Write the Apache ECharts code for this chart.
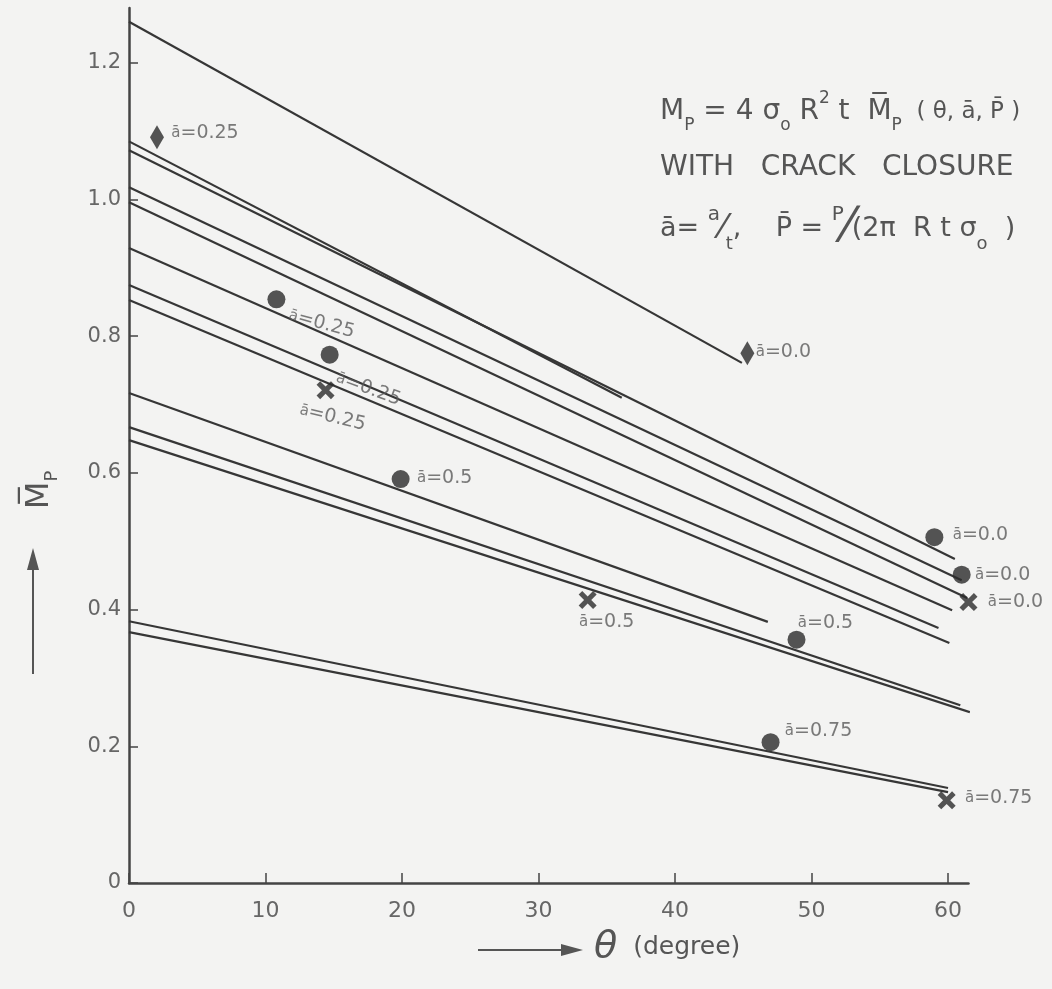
<!DOCTYPE html>
<html><head><meta charset="utf-8">
<script src="https://cdn.jsdelivr.net/npm/echarts@6/dist/echarts.min.js"></script>
<style>html,body{margin:0;padding:0;background:#f3f3f2}#c{width:1052px;height:989px}</style>
</head><body><div id="c"></div>
<script>
// ---- data ----
const xTicks = [0, 10, 20, 30, 40, 50, 60];
const yTicks = [0, 0.2, 0.4, 0.6, 0.8, 1.0, 1.2];
// straight curves: all start at theta = 0
const curveStartM   = [1.260, 1.085, 1.072, 1.018, 0.996, 0.929, 0.875, 0.853, 0.717, 0.667, 0.648, 0.383, 0.367];
const curveEndTheta = [44.9, 36.1, 60.5, 61.0, 61.4, 60.3, 59.3, 60.1, 46.8, 60.9, 61.6, 60.0, 60.0];
const curveEndM     = [0.761, 0.710, 0.474, 0.443, 0.417, 0.399, 0.373, 0.351, 0.382, 0.260, 0.250, 0.139, 0.133];
// experimental points
const markerTheta = [2.05, 45.3, 10.8, 14.7, 14.4, 19.9, 33.6, 48.9, 59.0, 61.0, 61.5, 47.0, 59.9];
const markerM     = [1.091, 0.775, 0.854, 0.773, 0.721, 0.591, 0.414, 0.356, 0.506, 0.451, 0.411, 0.206, 0.121];
const markerAbar  = ['0.25', '0.0', '0.25', '0.25', '0.25', '0.5', '0.5', '0.5', '0.0', '0.0', '0.0', '0.75', '0.75'];
const markerKind  = ['diamond', 'diamond', 'dot', 'dot', 'cross', 'dot', 'cross', 'dot', 'dot', 'dot', 'cross', 'dot', 'cross'];

// ---- styling (label placement relative to each point) ----
const markerLabelOffset = [[48,-4],[36,-1],[50,12],[48,19],[13,25],[44,-1],[19,22],[29,-17],[46,-2],[41,0],[47,0],[48,-11],[52,-2]];
const markerLabelRotate = [0, 0, -15, -20, -13, 0, 0, 0, 0, 0, 0, 0, 0];

const FONT = 'DejaVu Sans';
const INK = '#363636';
const TXT = '#5a5a5a';
const crossPath = 'path://M2,0 L5,3 L8,0 L10,2 L7,5 L10,8 L8,10 L5,7 L2,10 L0,8 L3,5 L0,2 Z';

function symbolFor(k) { return k === 'diamond' ? 'diamond' : (k === 'cross' ? crossPath : 'circle'); }
function sizeFor(k) { return k === 'diamond' ? [14, 24] : (k === 'cross' ? 18 : 18); }

const series = [];
curveStartM.forEach(function (m0, i) {
  series.push({
    type: 'line', data: [[0, m0], [curveEndTheta[i], curveEndM[i]]],
    symbol: 'none', silent: true, clip: false, z: 2,
    lineStyle: { color: INK, width: 2.2 }
  });
});
series.push({
  type: 'scatter', clip: false, z: 5, silent: true,
  itemStyle: { color: '#2a2a2a' },
  data: markerTheta.map(function (t, i) {
    return {
      value: [t, markerM[i]],
      symbol: symbolFor(markerKind[i]),
      symbolSize: sizeFor(markerKind[i]),
      label: {
        show: true, position: 'inside',
        offset: markerLabelOffset[i], rotate: markerLabelRotate[i],
        formatter: '{a|ā}{t|=' + markerAbar[i] + '}',
        rich: {
          a: { fontSize: 15, color: TXT, fontFamily: FONT },
          t: { fontSize: 19, color: TXT, fontFamily: FONT }
        }
      }
    };
  })
});

const option = {
  backgroundColor: '#f3f3f2',
  animation: false,
  grid: { left: 129, right: 83.5, top: 8.1, bottom: 106 },
  xAxis: {
    type: 'value', min: 0, max: 61.5,
    axisLine: { lineStyle: { color: '#444', width: 2.5 } },
    axisTick: { inside: true, length: 10, customValues: xTicks, lineStyle: { color: '#444', width: 1.5 } },
    axisLabel: { customValues: xTicks, fontSize: 22, color: '#666', margin: 17, fontFamily: FONT },
    splitLine: { show: false }
  },
  yAxis: {
    type: 'value', min: 0, max: 1.28,
    axisLine: { show: true, lineStyle: { color: '#444', width: 2.5 } },
    axisTick: { show: true, inside: true, length: 9, customValues: yTicks, lineStyle: { color: '#444', width: 1.5 } },
    axisLabel: {
      customValues: yTicks, fontSize: 21, color: '#666', margin: 8, fontFamily: FONT,
      formatter: function (v) { return v === 0 ? '0' : v.toFixed(1); }
    },
    splitLine: { show: false }
  },
  graphic: [
    // y-axis name (rotated) and arrow
    {
      type: 'text', x: 40, y: 490, rotation: Math.PI / 2,
      style: {
        text: '{m|M\u0305}{p|P}', align: 'center', verticalAlign: 'middle',
        rich: {
          m: { fontSize: 32, fontFamily: FONT, fill: '#555', lineHeight: 42, verticalAlign: 'middle' },
          p: { fontSize: 18, fontFamily: FONT, fill: '#555', lineHeight: 20, verticalAlign: 'bottom' }
        }
      }
    },
    { type: 'line', shape: { x1: 33, y1: 674, x2: 33, y2: 565 }, style: { stroke: '#555', lineWidth: 2 } },
    { type: 'polygon', shape: { points: [[33, 548], [27, 570], [39, 570]] }, style: { fill: '#555' } },
    // x-axis name and arrow
    { type: 'line', shape: { x1: 478, y1: 950, x2: 565, y2: 950 }, style: { stroke: '#555', lineWidth: 2 } },
    { type: 'polygon', shape: { points: [[583, 950], [561, 944], [561, 956]] }, style: { fill: '#555' } },
    {
      type: 'text', x: 594, y: 947,
      style: {
        text: '{t|θ}{d|  (degree)}', align: 'left', verticalAlign: 'middle',
        rich: {
          t: { fontSize: 38, fontFamily: FONT, fontStyle: 'italic', fill: '#555' },
          d: { fontSize: 25, fontFamily: FONT, fill: '#555' }
        }
      }
    },
    // annotation block
    {
      type: 'text', x: 660, y: 112,
      style: {
        text: '{b|M}{s|P}{b| = 4 σ}{s|o}{b| R}{u|2}{b| t  M\u0305}{s|P}{m|  ( θ, ā, P\u0304 )}',
        align: 'left', verticalAlign: 'middle',
        rich: {
          b: { fontSize: 28, fontFamily: FONT, fill: '#555', lineHeight: 44, verticalAlign: 'middle' },
          m: { fontSize: 23, fontFamily: FONT, fill: '#555', lineHeight: 44, verticalAlign: 'middle' },
          s: { fontSize: 17, fontFamily: FONT, fill: '#555', lineHeight: 17, verticalAlign: 'bottom' },
          u: { fontSize: 17, fontFamily: FONT, fill: '#555', lineHeight: 17, verticalAlign: 'top' }
        }
      }
    },
    {
      type: 'text', x: 660, y: 168,
      style: { text: 'WITH   CRACK   CLOSURE', align: 'left', verticalAlign: 'middle', fontSize: 28, fontFamily: FONT, fill: '#555' }
    },
    {
      type: 'text', x: 660, y: 229,
      style: {
        text: '{b|ā= }{u|a}{sl|⁄}{s|t}{b|,    P\u0304 = }{u|P}{big|⁄}{b|(2π  R t σ}{s|o}{b|  )}',
        align: 'left', verticalAlign: 'middle',
        rich: {
          b: { fontSize: 27, fontFamily: FONT, fill: '#555', lineHeight: 48, verticalAlign: 'middle' },
          sl: { fontSize: 34, fontFamily: FONT, fill: '#555', lineHeight: 48, verticalAlign: 'middle' },
          big: { fontSize: 48, fontFamily: FONT, fill: '#555', lineHeight: 48, verticalAlign: 'middle' },
          s: { fontSize: 18, fontFamily: FONT, fill: '#555', lineHeight: 18, verticalAlign: 'bottom' },
          u: { fontSize: 20, fontFamily: FONT, fill: '#555', lineHeight: 20, verticalAlign: 'top' }
        }
      }
    }
  ],
  series: series
};

const chart = echarts.init(document.getElementById('c'));
chart.setOption(option);
</script>
</body></html>
